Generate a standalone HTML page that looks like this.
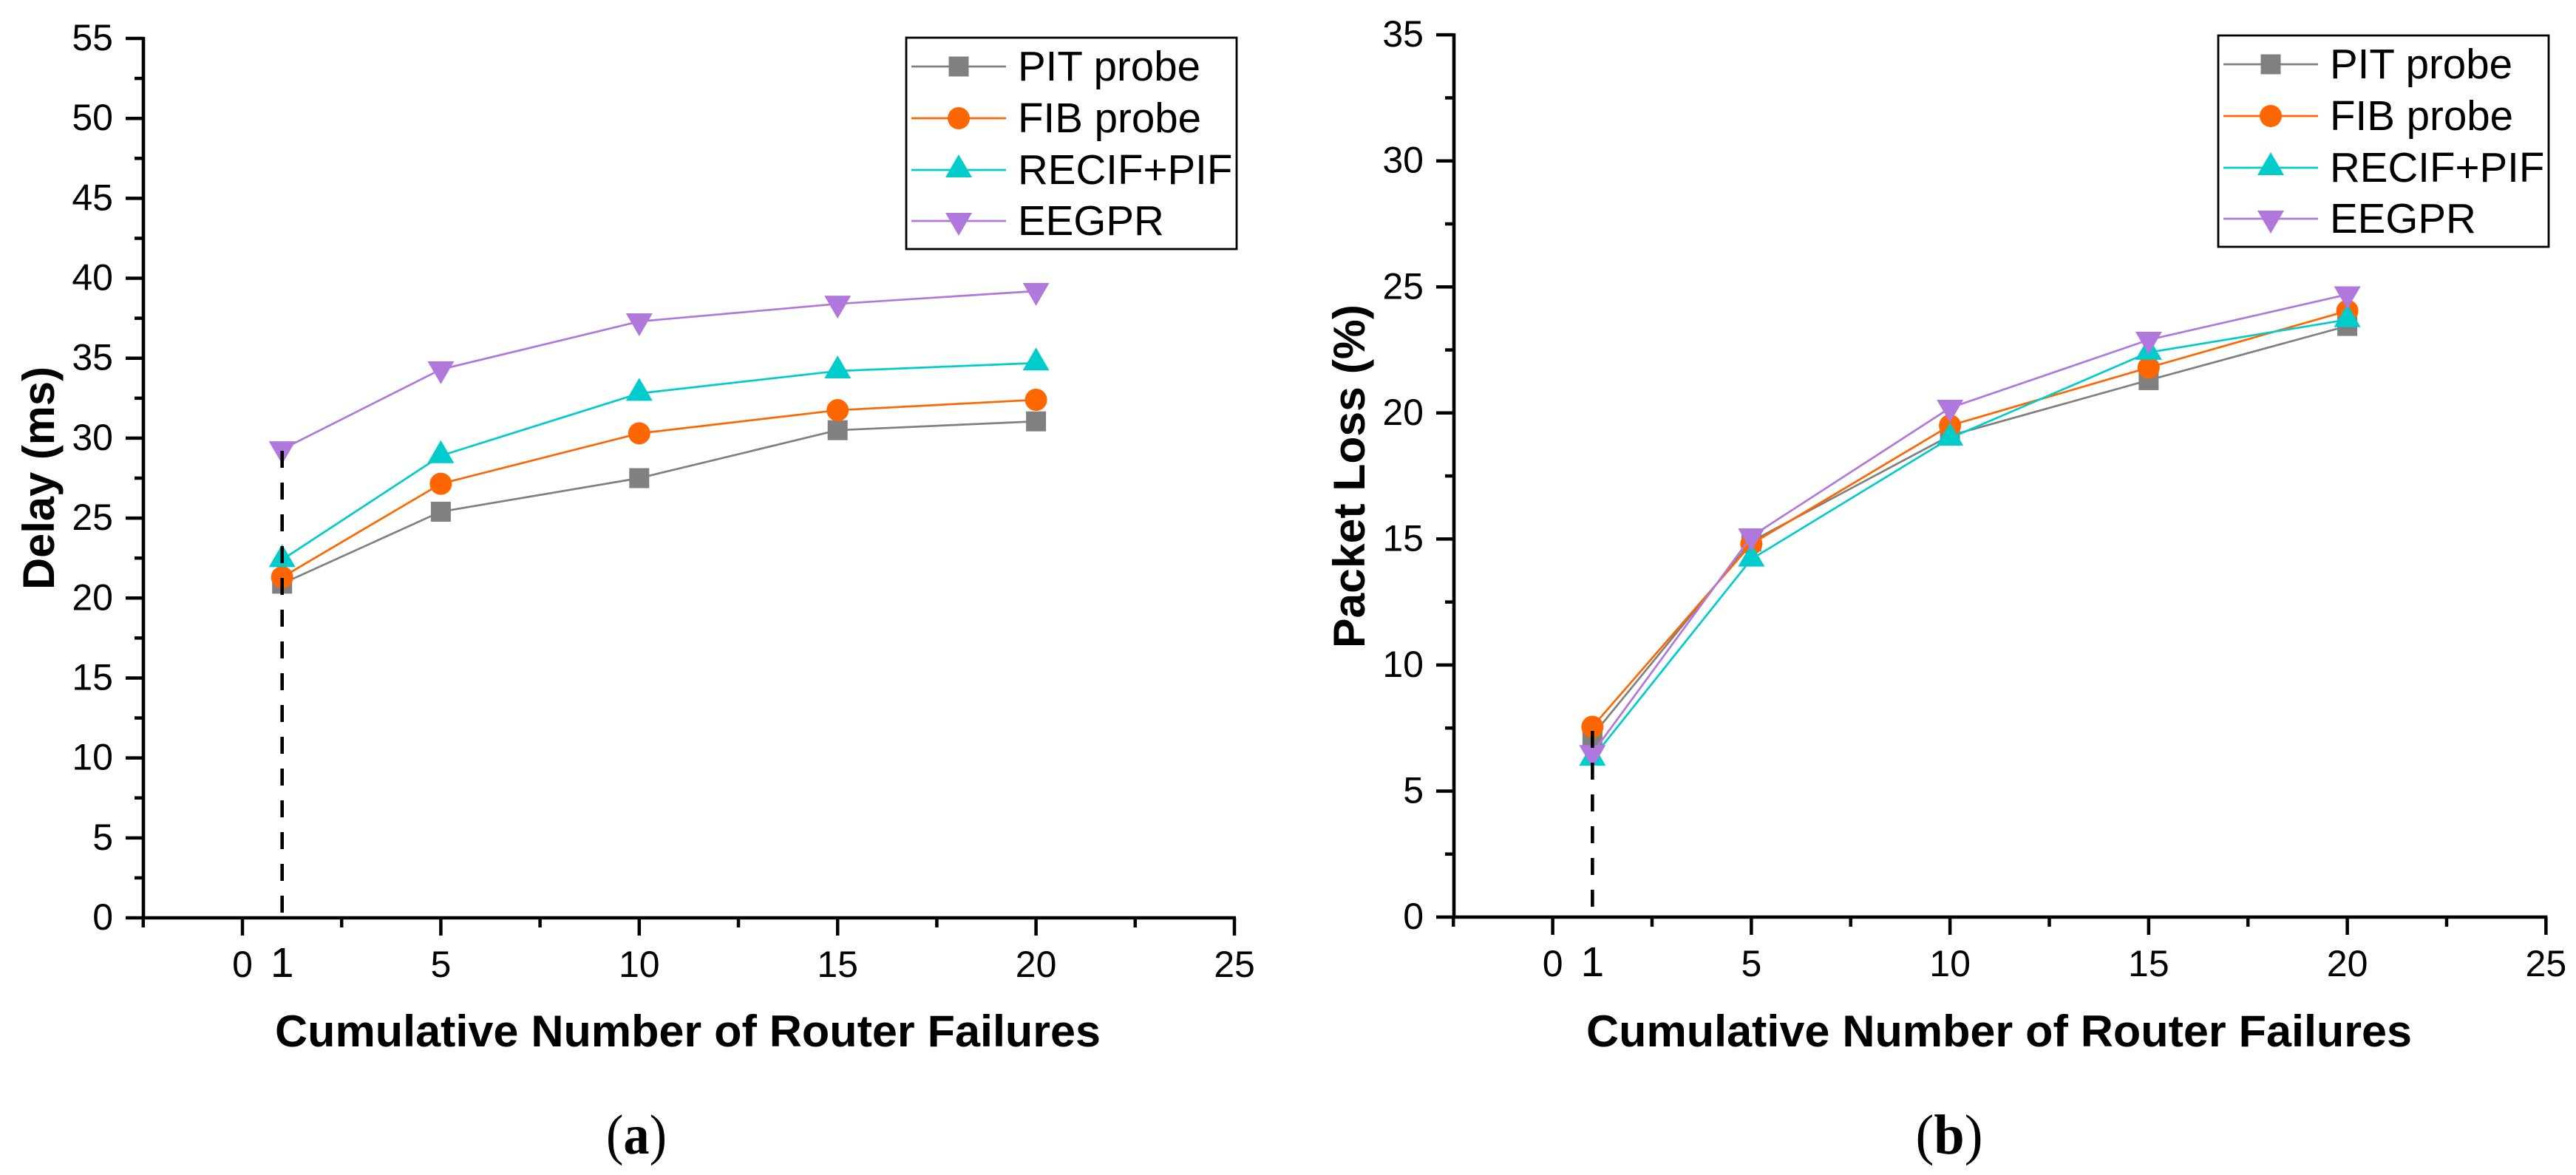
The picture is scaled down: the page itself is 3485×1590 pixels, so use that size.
<!DOCTYPE html>
<html lang="en">
<head>
<meta charset="utf-8">
<title>Delay and Packet Loss vs Router Failures</title>
<style>
html,body{margin:0;padding:0;background:#fff;}
svg{display:block;}
text{font-family:"Liberation Sans",Arial,sans-serif;fill:#000;}
</style>
</head>
<body>
<svg id="figure" xmlns="http://www.w3.org/2000/svg" width="3485" height="1590" viewBox="0 0 3485 1590">
  <rect x="0" y="0" width="3485" height="1590" fill="#fff"/>
  <text x="861" y="1561" text-anchor="middle" textLength="82" lengthAdjust="spacingAndGlyphs" style="font-family:'Liberation Serif',serif;font-size:76px">(<tspan font-weight="bold">a</tspan>)</text>
  <text x="2637" y="1561" text-anchor="middle" textLength="91" lengthAdjust="spacingAndGlyphs" style="font-family:'Liberation Serif',serif;font-size:76px">(<tspan font-weight="bold">b</tspan>)</text>
</svg>
<script>
// ---- data ----
const categories = [1, 5, 10, 15, 20];
const seriesNames = ['PIT probe', 'FIB probe', 'RECIF+PIF', 'EEGPR'];
const delayPit = [20.9, 25.4, 27.5, 30.5, 31.05];
const delayFib = [21.3, 27.15, 30.3, 31.75, 32.4];
const delayRecif = [22.4, 28.9, 32.8, 34.2, 34.7];
const delayEegpr = [29.3, 34.3, 37.3, 38.4, 39.2];
const lossPit = [7.2, 14.9, 19.1, 21.3, 23.45];
const lossFib = [7.55, 14.8, 19.5, 21.8, 24.05];
const lossRecif = [6.3, 14.2, 19.0, 22.4, 23.7];
const lossEegpr = [6.5, 15.1, 20.2, 22.9, 24.7];
const xTickLabels = [0, 5, 10, 15, 20, 25];
const xSpecialTickLabels = [1];
const delayTickLabels = [0, 5, 10, 15, 20, 25, 30, 35, 40, 45, 50, 55];
const lossTickLabels = [0, 5, 10, 15, 20, 25, 30, 35];

// ---- style & layout ----
const colors = ['#808080', '#FF6600', '#00CCCC', '#B077DD'];
const shapes = ['square', 'circle', 'up', 'down'];
const NS = 'http://www.w3.org/2000/svg';
const root = document.getElementById('figure');

function mk(parent, tag, attrs) {
  const el = document.createElementNS(NS, tag);
  for (const k in attrs) el.setAttribute(k, attrs[k]);
  parent.appendChild(el);
  return el;
}

function drawMarker(parent, shape, cx, cy, color, name) {
  let el;
  if (shape === 'square') {
    el = mk(parent, 'rect', {x: cx - 13.5, y: cy - 13.5, width: 27, height: 27, fill: color});
  } else if (shape === 'circle') {
    el = mk(parent, 'circle', {cx: cx, cy: cy, r: 15, fill: color});
  } else if (shape === 'up') {
    el = mk(parent, 'polygon', {points: (cx - 18) + ',' + (cy + 10) + ' ' + (cx + 18) + ',' + (cy + 10) + ' ' + cx + ',' + (cy - 21), fill: color});
  } else {
    el = mk(parent, 'polygon', {points: (cx - 18) + ',' + (cy - 11) + ' ' + (cx + 18) + ',' + (cy - 11) + ' ' + cx + ',' + (cy + 20), fill: color});
  }
  
  
  return el;
}

function drawPanel(p) {
  const xOf = v => p.x0 + p.xUnit * v;
  const yOf = v => p.yBase - p.yUnit * v;
  const yMax = p.yTicks[p.yTicks.length - 1];
  const g = mk(root, 'g', {});
  
  

  // y ticks (major and minor)
  for (let i = 0; i < p.yTicks.length; i++) {
    const v = p.yTicks[i];
    const major = mk(g, 'line', {x1: p.axisX - 24, x2: p.axisX, y1: yOf(v), y2: yOf(v), stroke: '#000', 'stroke-width': 4.5});
    
    
    const label = mk(g, 'text', {x: p.axisX - 41, y: yOf(v) + 16, 'text-anchor': 'end', 'font-size': 50});
    
    
    label.textContent = v;
    if (i < p.yTicks.length - 1) {
      const minorValue = (v + p.yTicks[i + 1]) / 2;
      const minor = mk(g, 'line', {x1: p.axisX - 12, x2: p.axisX, y1: yOf(minorValue), y2: yOf(minorValue), stroke: '#000', 'stroke-width': 4.5});
      
      
    }
  }

  // x ticks (major and minor)
  const minorX = mk(g, 'line', {x1: xOf(-2.5), x2: xOf(-2.5), y1: p.yBase, y2: p.yBase + 13, stroke: '#000', 'stroke-width': 4.5});
  
  
  for (let i = 0; i < xTickLabels.length; i++) {
    const v = xTickLabels[i];
    const major = mk(g, 'line', {x1: xOf(v), x2: xOf(v), y1: p.yBase, y2: p.yBase + 24, stroke: '#000', 'stroke-width': 4.5});
    
    
    const label = mk(g, 'text', {x: xOf(v), y: p.yBase + 80, 'text-anchor': 'middle', 'font-size': 50});
    
    
    label.textContent = v;
    if (i < xTickLabels.length - 1) {
      const mv = (v + xTickLabels[i + 1]) / 2;
      const minor = mk(g, 'line', {x1: xOf(mv), x2: xOf(mv), y1: p.yBase, y2: p.yBase + 13, stroke: '#000', 'stroke-width': 4.5});
      
      
    }
  }
  for (const v of xSpecialTickLabels) {
    const label = mk(g, 'text', {x: xOf(v), y: p.yBase + 80, 'text-anchor': 'middle', 'font-size': 57});
    
    
    label.textContent = v;
  }

  // axes
  const yAxis = mk(g, 'line', {x1: p.axisX, x2: p.axisX, y1: yOf(yMax) - 2, y2: p.yBase + 2, stroke: '#000', 'stroke-width': 4.6});
  
  
  const xAxis = mk(g, 'line', {x1: p.axisX - 2, x2: xOf(25) + 2, y1: p.yBase, y2: p.yBase, stroke: '#000', 'stroke-width': 4.6});
  
  

  // axis titles
  const xTitle = mk(g, 'text', {x: p.xTitleX, y: 1416, 'font-size': 60, 'font-weight': 'bold', textLength: 1117, lengthAdjust: 'spacingAndGlyphs'});
  
  
  xTitle.textContent = 'Cumulative Number of Router Failures';
  const yTitle = mk(g, 'text', {transform: 'translate(' + p.yTitleX + ',' + p.yTitleY + ') rotate(-90)', 'font-size': 60, 'font-weight': 'bold', textLength: p.yTitleLen, lengthAdjust: 'spacingAndGlyphs'});
  
  
  yTitle.textContent = p.yTitle;

  // series lines then markers
  for (let s = 0; s < p.series.length; s++) {
    const values = p.series[s];
    const sg = mk(g, 'g', {});
    
    
    const pts = values.map((v, i) => xOf(categories[i]) + ',' + yOf(v)).join(' ');
    const line = mk(sg, 'polyline', {points: pts, fill: 'none', stroke: colors[s], 'stroke-width': 2.7});
    
    
    values.forEach((v, i) => {
      drawMarker(sg, shapes[s], xOf(categories[i]), yOf(v), colors[s], p.id + '-point-' + shapes[s]);
    });
  }

  // dashed drop line at x = 1
  const drop = mk(g, 'line', {x1: xOf(1), x2: xOf(1), y1: p.dropBottom, y2: p.dropTop, stroke: '#000', 'stroke-width': 4.6, 'stroke-dasharray': '23 20'});
  
  

  // legend
  const lg = mk(g, 'g', {});
  
  
  const box = mk(lg, 'rect', {x: p.legX, y: p.legY, width: 447, height: 286, fill: '#fff', stroke: '#000', 'stroke-width': 2.8});
  
  
  const rowOffsets = [39, 109, 179, 248];
  for (let s = 0; s < seriesNames.length; s++) {
    const cy = p.legY + rowOffsets[s];
    const line = mk(lg, 'line', {x1: p.legX + 7, x2: p.legX + 135, y1: cy, y2: cy, stroke: colors[s], 'stroke-width': 2.7});
    
    
    drawMarker(lg, shapes[s], p.legX + 71, cy, colors[s], p.id + '-legend-marker-' + shapes[s]);
    const t = mk(lg, 'text', {x: p.legX + 151, y: cy + 19, 'font-size': 56.5});
    
    
    t.textContent = seriesNames[s];
  }
}

drawPanel({
  id: 'delay', x0: 328, xUnit: 53.68, axisX: 194, yBase: 1242, yUnit: 21.636,
  yTicks: delayTickLabels, series: [delayPit, delayFib, delayRecif, delayEegpr],
  xTitleX: 372, yTitle: 'Delay (ms)', yTitleX: 73, yTitleY: 798, yTitleLen: 302,
  dropTop: 610, dropBottom: 1235, legX: 1226, legY: 51
});
drawPanel({
  id: 'loss', x0: 2100.6, xUnit: 53.75, axisX: 1967, yBase: 1241, yUnit: 34.11,
  yTicks: lossTickLabels, series: [lossPit, lossFib, lossRecif, lossEegpr],
  xTitleX: 2146, yTitle: 'Packet Loss (%)', yTitleX: 1846, yTitleY: 877, yTitleLen: 465,
  dropTop: 988, dropBottom: 1227, legX: 3001, legY: 48
});
</script>
</body>
</html>
